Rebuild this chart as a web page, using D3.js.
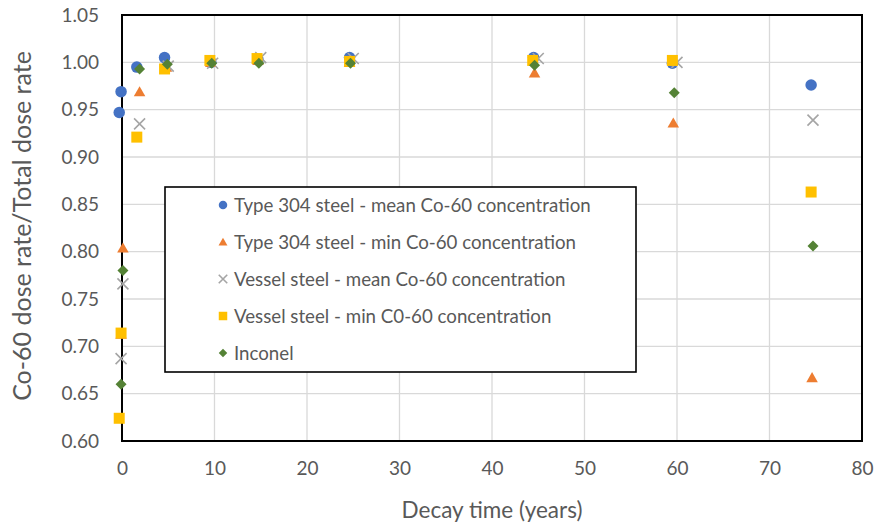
<!DOCTYPE html>
<html>
<head>
<meta charset="utf-8">
<script src="https://cdn.jsdelivr.net/npm/d3@7"></script>
<style>
  html, body { margin: 0; padding: 0; background: #fff; }
  svg { display: block; font-family: Lato, "Noto Sans", sans-serif; }
</style>
</head>
<body>
<svg id="chart" width="876" height="527"></svg>
<script>
// Axis ticks
const xTicks = [0, 10, 20, 30, 40, 50, 60, 70, 80];
const yTicks = [0.60, 0.65, 0.70, 0.75, 0.80, 0.85, 0.90, 0.95, 1.00, 1.05];

// Ratio of Co-60 dose rate to total dose rate versus decay time
const s304MeanX = [-0.1, -0.3, 1.6, 4.6, 9.6, 14.7, 24.6, 44.5, 59.5, 74.5];
const s304MeanY = [0.969, 0.947, 0.995, 1.005, 1.000, 1.003, 1.005, 1.005, 0.999, 0.976];

const s304MinX = [0.1, -0.1, 1.9, 4.8, 9.6, 14.7, 24.6, 44.6, 59.6, 74.6];
const s304MinY = [0.804, 0.713, 0.969, 0.995, 1.000, 1.002, 1.000, 0.989, 0.936, 0.667];

const vesselMeanX = [0.1, -0.1, 1.9, 5.0, 9.8, 15.0, 25.0, 45.0, 60.0, 74.7];
const vesselMeanY = [0.766, 0.687, 0.935, 0.996, 0.999, 1.005, 1.004, 1.004, 1.000, 0.939];

const vesselMinX = [-0.1, -0.3, 1.6, 4.6, 9.5, 14.6, 24.6, 44.4, 59.5, 74.5];
const vesselMinY = [0.714, 0.624, 0.921, 0.993, 1.002, 1.004, 1.001, 1.002, 1.002, 0.863];

const inconelX = [0.1, -0.1, 1.9, 4.9, 9.7, 14.8, 24.7, 44.6, 59.7, 74.7];
const inconelY = [0.780, 0.660, 0.993, 0.998, 0.999, 0.999, 0.999, 0.997, 0.968, 0.806];

const seriesNames = [
  "Type 304 steel - mean Co-60 concentration",
  "Type 304 steel - min Co-60 concentration",
  "Vessel steel - mean Co-60 concentration",
  "Vessel steel - min C0-60 concentration",
  "Inconel"
];

const series = [
  { name: seriesNames[0], xs: s304MeanX, ys: s304MeanY, shape: "circle", color: "#4472C4" },
  { name: seriesNames[1], xs: s304MinX, ys: s304MinY, shape: "triangle", color: "#ED7D31" },
  { name: seriesNames[2], xs: vesselMeanX, ys: vesselMeanY, shape: "cross", color: "#A5A5A5" },
  { name: seriesNames[3], xs: vesselMinX, ys: vesselMinY, shape: "square", color: "#FFC000" },
  { name: seriesNames[4], xs: inconelX, ys: inconelY, shape: "diamond", color: "#548235" }
];

const svg = d3.select("#chart");
const margin = { left: 122, right: 14, top: 15, bottom: 86 };
const W = 876, H = 527;
const plotW = W - margin.left - margin.right;
const plotH = H - margin.top - margin.bottom;

const x = d3.scaleLinear().domain([0, 80]).range([margin.left, margin.left + plotW]);
const y = d3.scaleLinear().domain([0.60, 1.05]).range([margin.top + plotH, margin.top]);

// Gridlines
const grid = svg.append("g");
grid.selectAll("line.v").data(xTicks).join("line")
  .attr("x1", d => x(d)).attr("x2", d => x(d))
  .attr("y1", margin.top).attr("y2", margin.top + plotH)
  .attr("stroke", "#D9D9D9").attr("stroke-width", 1.3);
grid.selectAll("line.h").data(yTicks).join("line")
  .attr("y1", d => y(d)).attr("y2", d => y(d))
  .attr("x1", margin.left).attr("x2", margin.left + plotW)
  .attr("stroke", "#D9D9D9").attr("stroke-width", 1.3);

// Axes (labels only)
const xAxis = svg.append("g")
  .attr("transform", `translate(0,${margin.top + plotH})`)
  .call(d3.axisBottom(x).tickValues(xTicks).tickSize(0).tickPadding(21).tickFormat(d3.format("d")));
const yAxis = svg.append("g")
  .attr("transform", `translate(${margin.left},0)`)
  .call(d3.axisLeft(y).tickValues(yTicks).tickSize(0).tickPadding(23).tickFormat(d3.format(".2f")));
[xAxis, yAxis].forEach(a => {
  a.select(".domain").remove();
  a.selectAll("text").attr("fill", "#595959").style("font-size", "19px")
    .style("font-family", "Lato, 'Noto Sans', sans-serif");
});

// Plot frame
svg.append("rect")
  .attr("x", margin.left).attr("y", margin.top)
  .attr("width", plotW).attr("height", plotH)
  .attr("fill", "none").attr("stroke", "#000").attr("stroke-width", 2);

// Axis titles
svg.append("text")
  .attr("x", x(40)).attr("y", 518)
  .attr("text-anchor", "middle").attr("fill", "#595959")
  .style("font-size", "22.5px").text("Decay time (years)");
svg.append("text")
  .attr("transform", `translate(31,226) rotate(-90)`)
  .attr("text-anchor", "middle").attr("fill", "#595959")
  .style("font-size", "25px").text("Co-60 dose rate/Total dose rate");

// Marker shapes
function markerPath(shape, size) {
  const h = size / 2;
  switch (shape) {
    case "circle":
      return d3.symbol(d3.symbolCircle, Math.PI * h * h)();
    case "triangle":
      return `M0,${-h}L${h * 1.05},${h * 0.85}L${-h * 1.05},${h * 0.85}Z`;
    case "square":
      return `M${-h},${-h}H${h}V${h}H${-h}Z`;
    case "diamond":
      return `M0,${-h}L${h},0L0,${h}L${-h},0Z`;
    case "cross":
      return `M${-h},${-h}L${h},${h}M${h},${-h}L${-h},${h}`;
  }
}
function drawMarker(sel, shape, color, size) {
  sel.attr("d", markerPath(shape, size));
  if (shape === "cross") {
    sel.attr("fill", "none").attr("stroke", color).attr("stroke-width", 1.6);
  } else {
    sel.attr("fill", color).attr("stroke", "none");
  }
}

const sizes = { circle: 11.5, triangle: 11, square: 11, diamond: 11, cross: 11 };

series.forEach(s => {
  const pts = s.xs.map((xv, i) => ({ x: xv, y: s.ys[i] }));
  svg.append("g").selectAll("path").data(pts).join("path")
    .attr("transform", d => `translate(${x(d.x)},${y(d.y)})`)
    .each(function () { drawMarker(d3.select(this), s.shape, s.color, sizes[s.shape]); });
});

// Legend
const lg = svg.append("g");
lg.append("rect")
  .attr("x", 165).attr("y", 187).attr("width", 471).attr("height", 185)
  .attr("fill", "#fff").attr("stroke", "#000").attr("stroke-width", 1.6);
const rowY = [205, 242, 279, 316, 353];
series.forEach((s, i) => {
  const row = lg.append("g").attr("transform", `translate(223,${rowY[i]})`);
  row.append("path").call(sel => drawMarker(sel, s.shape, s.color, 8.5));
  row.append("text").attr("x", 11).attr("dy", "0.35em")
    .attr("fill", "#595959").style("font-size", "18.7px").text(s.name);
});
</script>
</body>
</html>
